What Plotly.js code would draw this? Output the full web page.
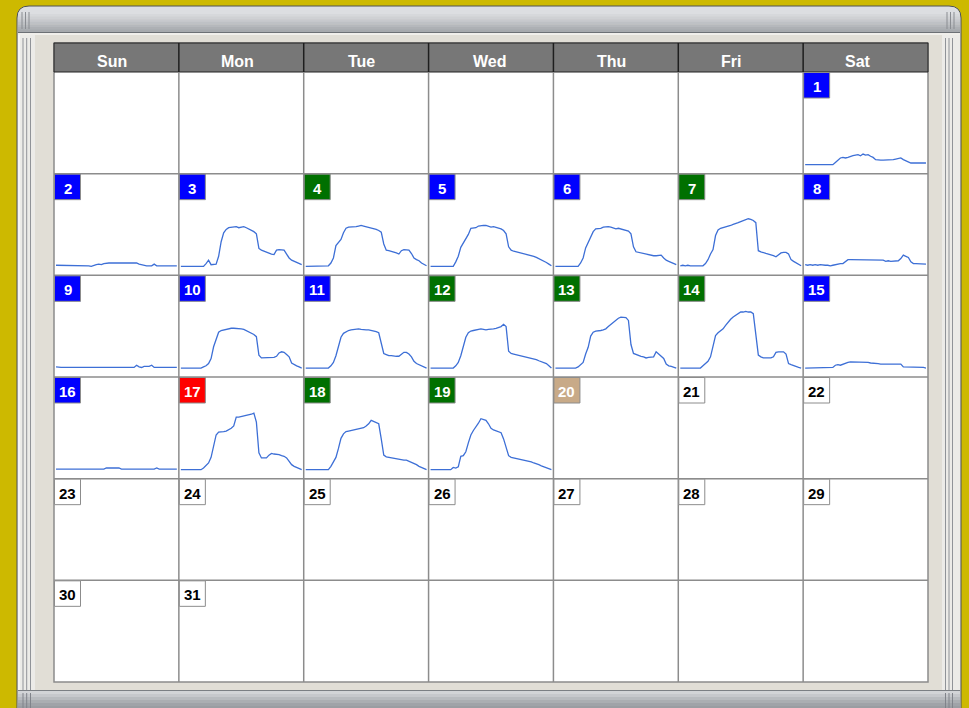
<!DOCTYPE html>
<html><head><meta charset="utf-8">
<script src="https://cdn.plot.ly/plotly-3.0.1.min.js"></script>
<style>html,body{margin:0;padding:0;background:#cdb900;overflow:hidden}</style>
</head><body><div id="chart" style="width:969px;height:708px"></div>
<script>
// ---------------- data ----------------
const weekdays = ['Sun','Mon','Tue','Wed','Thu','Fri','Sat'];
const firstWeekday = 6;           // day 1 falls on Saturday
const daysInMonth = 31;
// status of each day 1..31
const dayStatus = ['low','low','low','high','low','low','high','low','low','low','low','high','high','high','low','low','peak','high','high','today',
  'none','none','none','none','none','none','none','none','none','none','none'];
const hours = [0,0.5,1,1.5,2,2.5,3,3.5,4,4.5,5,5.5,6,6.5,7,7.5,8,8.5,9,9.5,10,10.5,11,11.5,12,12.5,13,13.5,14,14.5,15,15.5,16,16.5,17,17.5,18,18.5,19,19.5,20,20.5,21,21.5,22,22.5,23,23.5,24];
const load01 = [0,0,0,0,0,0,0,0,0,0,0,0,4,9,12,13,12,13,15,16,17,18,16,19,17,18,15,13,9,8,8,8,8,8,8,9,10,11,12,9,7,4,3,3,3,3,3,3,3];
const load02 = [2,2,2,2,2,2,2,2,2,2,2,2,2,1,0,2,3,4,3,5,6,6,6,6,6,6,6,6,6,6,6,5,6,4,3,1,1,1,1,4,1,1,1,1,1,1,1,1,1];
const load03 = [0,0,0,0,0,0,0,0,0,0,5,11,3,3,4,18,44,60,66,69,70,70,71,69,70,71,69,67,65,62,58,32,29,27,26,24,22,21,29,30,30,29,22,15,11,9,6,4,3];
const load04 = [0,0,0,0,0,0,0,0,0,1,6,15,37,42,48,60,68,70,70,70,71,72,73,72,71,70,69,68,66,64,61,40,29,28,27,25,24,22,28,30,30,29,23,15,12,10,6,3,1];
const load05 = [0,0,0,0,0,0,0,0,0,0,8,18,34,42,48,57,68,68,69,72,73,73,73,71,70,71,70,69,67,64,58,35,29,27,26,25,24,23,22,21,20,18,16,14,12,10,7,4,1];
const load06 = [0,0,0,0,0,0,0,0,0,0,6,15,33,43,52,62,67,67,68,70,71,71,70,69,67,68,67,66,65,63,58,35,26,25,24,23,21,20,19,19,19,19,20,15,11,9,7,5,3];
const load07 = [1,2,1,2,1,1,2,1,1,1,5,12,22,30,55,65,68,69,70,71,73,75,76,78,80,82,83,85,84,82,78,28,26,24,23,22,21,19,17,20,24,25,25,22,12,9,6,3,1];
const load08 = [3,2,3,2,3,2,3,2,2,2,1,2,3,5,5,5,8,12,12,12,12,12,12,12,12,12,12,12,11,12,12,11,9,10,9,9,9,10,14,20,18,16,8,5,5,5,5,5,4];
const load09 = [2,1,1,1,1,1,1,1,2,1,1,1,1,2,1,1,1,1,1,1,1,1,1,1,1,1,1,1,1,1,1,1,5,2,1,3,3,3,5,1,1,1,1,1,1,1,1,1,1];
const load10 = [0,0,0,0,0,0,0,0,0,2,4,8,17,38,52,64,67,68,70,71,71,71,71,70,70,69,67,65,62,60,56,23,18,18,18,18,18,19,21,27,29,28,24,20,9,6,4,2,0];
const load11 = [0,0,0,0,0,0,0,0,0,0,4,10,22,37,55,62,65,67,68,69,70,70,69,68,68,68,67,67,65,63,46,26,24,22,22,21,21,21,24,28,28,25,20,12,8,6,4,2,0];
const load12 = [0,0,0,0,0,0,0,0,0,0,4,10,22,37,55,63,66,67,68,68,70,69,68,69,69,70,71,72,74,78,74,30,26,25,24,23,22,21,20,19,18,17,15,13,11,9,8,4,0];
const load13 = [0,0,0,0,0,0,0,0,0,2,6,10,25,37,57,64,66,66,67,68,70,74,78,81,85,89,91,91,90,85,42,26,24,22,21,20,18,19,19,20,29,25,20,17,7,4,3,1,0];
const load14 = [0,0,0,0,0,0,0,0,0,4,8,12,20,40,58,63,66,70,76,82,87,91,94,97,100,100,101,100,100,97,55,23,20,18,18,18,18,20,28,29,29,29,25,8,6,4,3,1,0];
const load15 = [0,0,0,0,0,0,0,0,0,0,0,1,5,6,5,7,8,10,11,11,10,10,10,11,11,10,9,9,8,8,7,7,7,7,7,6,6,6,7,2,2,2,2,2,2,2,2,1,0];
const load16 = [1,1,1,1,1,1,1,1,1,1,1,1,1,1,1,1,1,1,1,1,3,3,3,3,3,3,1,1,1,1,1,1,1,1,1,1,1,1,1,1,3,1,1,1,1,1,1,1,1];
const load17 = [0,0,0,0,0,0,0,0,0,3,7,12,22,40,62,67,67,68,69,71,74,78,94,94,95,96,96,98,99,101,85,30,21,21,21,26,29,28,28,27,25,24,21,15,9,6,4,2,0];
const load18 = [0,0,0,0,0,0,0,0,0,0,6,14,22,38,56,64,68,69,70,71,72,73,74,75,78,82,88,86,84,82,55,26,23,22,21,20,19,18,18,17,17,15,14,12,9,6,4,2,0];
const load19 = [0,0,0,0,0,0,0,0,0,4,3,5,24,25,32,48,62,70,76,83,91,90,88,82,74,71,69,68,66,55,40,25,22,21,20,19,19,18,17,16,14,12,11,9,7,5,4,2,0];
const loads = [load01,load02,load03,load04,load05,load06,load07,load08,load09,load10,load11,load12,load13,load14,load15,load16,load17,load18,load19];

// ---------------- styling / geometry ----------------
const W = 969, H = 708;
const px = x => x / W, py = y => 1 - y / H;
const statusColor = {low:'#0000ff', high:'#007000', peak:'#ff0000', today:'#c8aa88', none:'#ffffff'};
const gx0 = 54, gx1 = 928, gy0 = 43, hdr1 = 72, gy1 = 682;
const cw = (gx1 - gx0) / 7, rh = (gy1 - hdr1) / 6;
const headerShift = [-4,-3.5,-5,-2,-4,-10,-8];   // label offsets from column centres (px)
const FONT = 'Liberation Sans, Arial, sans-serif';

const shapes = [];
function rect(x0,y0,x1,y1,fill,lineColor,lw,layer){
  shapes.push({type:'rect',xref:'paper',yref:'paper',x0:px(x0),x1:px(x1),y0:py(y1),y1:py(y0),
    fillcolor:fill,line:{color:lineColor||fill,width:lw||0},layer:layer||'below'});
}
function seg(x0,y0,x1,y1,color,w,layer){
  shapes.push({type:'line',xref:'paper',yref:'paper',x0:px(x0),x1:px(x1),y0:py(y0),y1:py(y1),
    line:{color:color,width:w},layer:layer||'below'});
}
function roundTop(x0,y0,x1,y1,r,fill,lineColor,lw){
  const p = `M${px(x0)},${py(y1)} L${px(x0)},${py(y0+r)} Q${px(x0)},${py(y0)} ${px(x0+r)},${py(y0)} `+
            `L${px(x1-r)},${py(y0)} Q${px(x1)},${py(y0)} ${px(x1)},${py(y0+r)} L${px(x1)},${py(y1)} Z`;
  shapes.push({type:'path',xref:'paper',yref:'paper',path:p,fillcolor:fill,line:{color:lineColor||fill,width:lw||0},layer:'below'});
}

// window frame
roundTop(17,6,961,730,12,'#e1ded6','#4f5358',1);
roundTop(18,7,960,16,11,'#dcdee1');
const tb = ['#d6d8db','#cfd1d4','#c7c9cd','#bec1c5','#b5b8bc','#adb0b4','#a6a9ad'];
tb.forEach((c,i)=>rect(18,14+i*2.6,960,14+(i+1)*2.6+0.3,c));
seg(18,32.5,960,32.5,'#6c7075',1);
seg(18,34,960,34,'#ffffff',1);
// title bar grooves
[22,25.5,29].forEach(x=>seg(x,12,x,29,'#8a8d92',1));
[947,950.5,954].forEach(x=>seg(x,12,x,29,'#8a8d92',1));
// side strips
rect(18,35,35,690,'#ecebe8');
rect(942,35,960,690,'#ecebe8');
seg(19,35,19,690,'#ffffff',1);
[23,26.7,30.5].forEach(x=>seg(x,38,x,690,'#909398',1));
[945.5,949,952.5].forEach(x=>seg(x,38,x,690,'#909398',1));
// bottom bar
const bb = ['#d2d4d7','#c6c8cc','#b8bbbf','#abaeb2','#a0a3a8','#9a9da2'];
seg(18,690.5,960,690.5,'#7b7f84',1);
bb.forEach((c,i)=>rect(18,691+i*3,960,691+(i+1)*3+0.3,c));
[23,26.7,30.5].forEach(x=>seg(x,693,x,708,'#80838a',1));
[945.5,949,952.5].forEach(x=>seg(x,693,x,708,'#80838a',1));

// calendar grid
rect(gx0,gy0,gx1,gy1,'#ffffff','#8c8c8c',1.5);
rect(gx0,gy0,gx1,hdr1,'#777777','#222222',1);
for(let c=1;c<7;c++){
  const x = gx0 + c*cw;
  seg(x,gy0,x,hdr1,'#1e1e1e',1.5);
  seg(x,hdr1,x,gy1,'#8c8c8c',1.5);
}
for(let r=1;r<6;r++){
  const y = hdr1 + r*rh;
  seg(gx0,y,gx1,y,'#8c8c8c',1.5);
}

const annotations = [];
weekdays.forEach((d,c)=>{
  annotations.push({xref:'paper',yref:'paper',x:px(gx0+(c+0.5)*cw+headerShift[c]),y:py(61.5),text:'<b>'+d+'</b>',
    showarrow:false,xanchor:'center',yanchor:'middle',font:{family:FONT,size:16,color:'#ffffff'}});
});

function cellOf(day){
  const idx = day - 1 + firstWeekday;
  const r = Math.floor(idx/7), c = idx % 7;
  return {x0:gx0+c*cw, x1:gx0+(c+1)*cw, y0:hdr1+r*rh, y1:hdr1+(r+1)*rh};
}

for(let d=1; d<=daysInMonth; d++){
  const cell = cellOf(d);
  const st = dayStatus[d-1];
  rect(cell.x0+0.5,cell.y0+0.5,cell.x0+26.5,cell.y0+26,statusColor[st],'#8c8c8c',1,'above');
  annotations.push({xref:'paper',yref:'paper',x:px(cell.x0+13.5),y:py(cell.y0+14.5),text:'<b>'+d+'</b>',
    showarrow:false,xanchor:'center',yanchor:'middle',
    font:{family:FONT,size:15,color: st==='none' ? '#000000' : '#ffffff'}});
}

const traces = [];
const layout = {
  width:W, height:H, margin:{l:0,r:0,t:0,b:0,pad:0},
  paper_bgcolor:'#cdb900', plot_bgcolor:'rgba(0,0,0,0)',
  showlegend:false, shapes:shapes, annotations:annotations
};
loads.forEach((vals,i)=>{
  const k = i+1, day = i+1;
  const cell = cellOf(day);
  const xs = k===1 ? '' : String(k);
  traces.push({type:'scatter',mode:'lines',x:hours,y:vals,xaxis:'x'+xs,yaxis:'y'+xs,
    line:{color:'#3d6fd6',width:1.3},hoverinfo:'skip'});
  layout['xaxis'+xs] = {domain:[px(cell.x0),px(cell.x1)],range:[-0.4,24.4],visible:false,fixedrange:true,anchor:'y'+xs};
  layout['yaxis'+xs] = {domain:[py(cell.y1),py(cell.y0)],range:[-16,165.5],visible:false,fixedrange:true,anchor:'x'+xs};
});

Plotly.newPlot('chart', traces, layout, {displayModeBar:false, staticPlot:true});
</script></body></html>
